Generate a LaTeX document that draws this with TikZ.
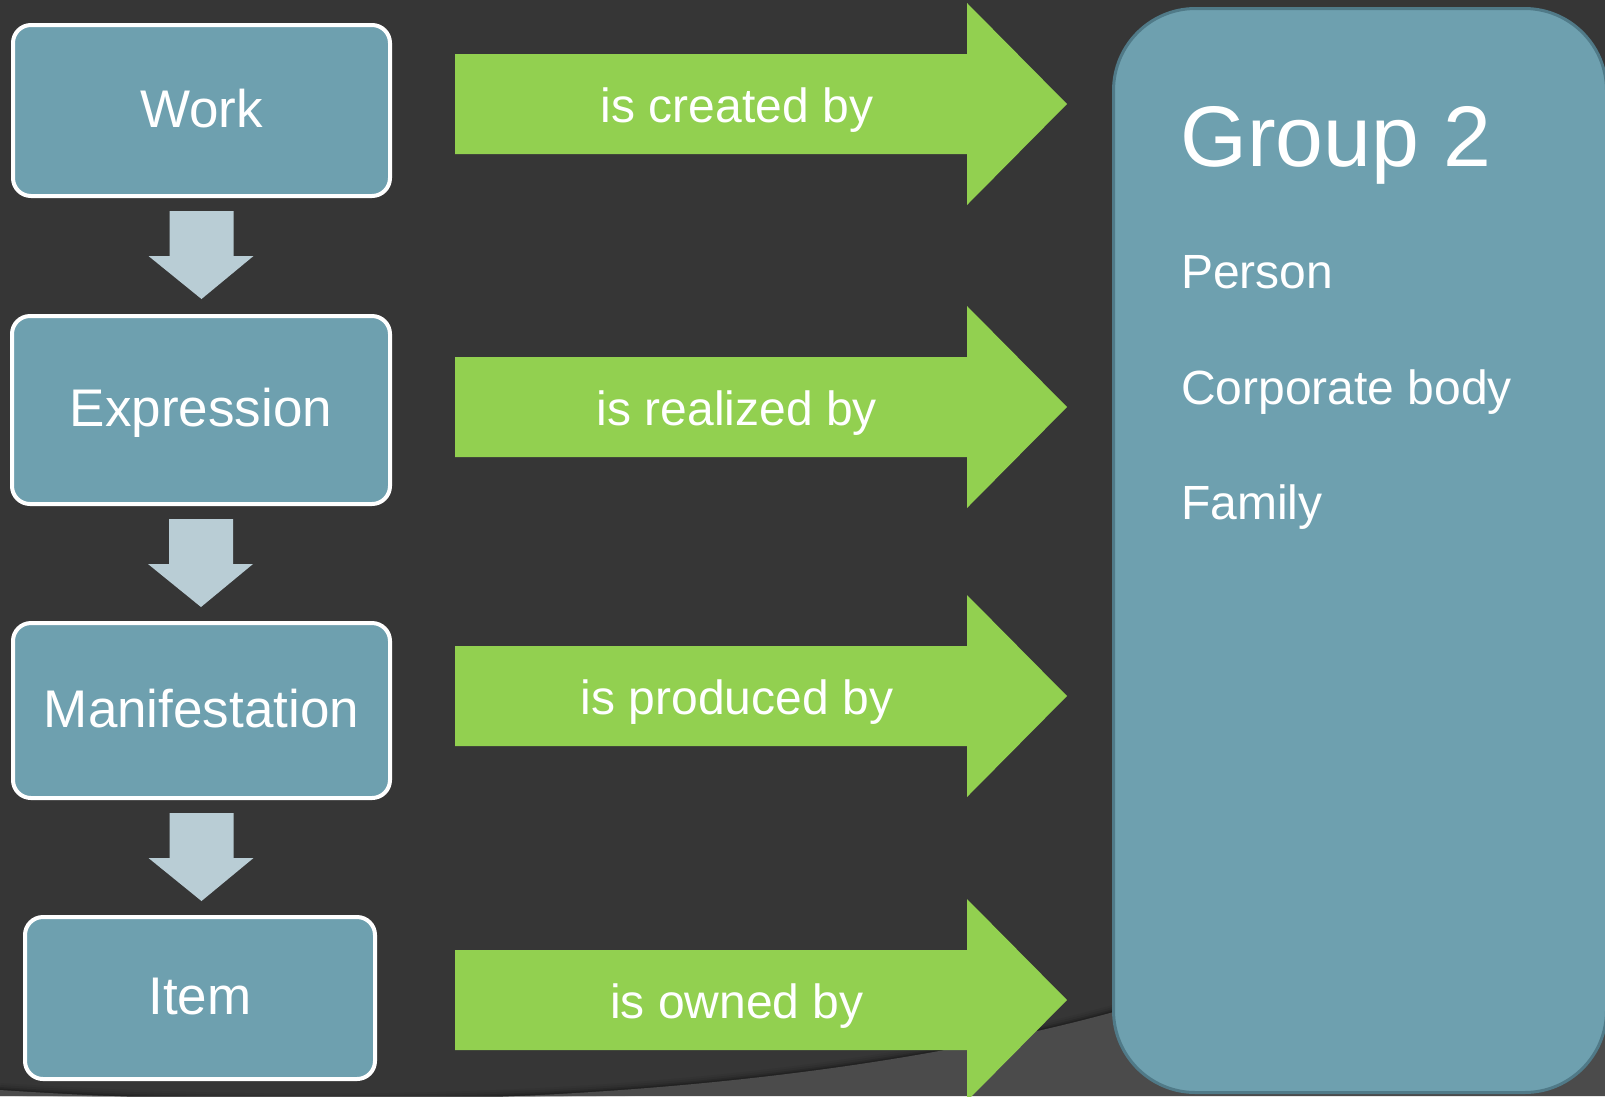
\documentclass[tikz,border=0pt]{standalone}
\usepackage{fontspec}
\setmainfont{Liberation Sans}
\definecolor{bgdark}{HTML}{363636}
\definecolor{bglight}{HTML}{4B4B4B}
\definecolor{boxfill}{HTML}{6EA0AF}
\definecolor{boxedge}{HTML}{507A88}
\definecolor{grn}{HTML}{92D050}
\definecolor{dnfill}{HTML}{B9CDD5}
\newcommand\grnarrow[1]{%
  \fill[grn] (455,#1-50) -- (967,#1-50) -- (967,#1-101) -- (1067,#1)
    -- (967,#1+101) -- (967,#1+50) -- (455,#1+50) -- cycle;}
\newcommand\dnarrow[1]{%
  \fill[dnfill, shift={(#1.south)}] (-32,13) -- (32,13) -- (32,58) -- (52,58)
    -- (0,101) -- (-53,58) -- (-32,58) -- cycle;}
\begin{document}
\begin{tikzpicture}[x=1pt,y=-1pt,
  entity/.style={draw=white, line width=4pt, fill=boxfill, rounded corners=18pt,
    text=white, font=\fontsize{53}{60}\selectfont, inner sep=0pt,
    text height=38pt, text depth=5pt},
  rel/.style={text=white, font=\fontsize{48}{55}\selectfont, inner sep=0pt, anchor=base},
  member/.style={text=white, font=\fontsize{48}{55}\selectfont, inner sep=0pt, anchor=base west}]
\fill[bgdark] (0,0) rectangle (1605,1096);
\useasboundingbox (0,0) rectangle (1605,1096);
% background swoosh with soft shadow
\foreach \o/\op in {14/0.05,10/0.08,6/0.12,3/0.16}{
  \draw[black, opacity=\op, line width=\o pt]
    (0,1090) .. controls (300,1110) and (750,1110) .. (1110,1013)
    .. controls (1300,962) and (1450,915) .. (1605,870);}
\fill[bglight] (0,1090) .. controls (300,1110) and (750,1110) .. (1110,1013)
    .. controls (1300,962) and (1450,915) .. (1605,870) -- (1605,1096) -- (0,1096) -- cycle;
% left entity boxes
\node[entity, minimum width=377pt, minimum height=171pt] (work) at (201.5,110.5) {Work};
\node[entity, minimum width=378pt, minimum height=188pt] (expr) at (201,410) {Expression};
\node[entity, minimum width=377pt, minimum height=175pt] (manif) at (201.5,710.5) {Manifestation};
\node[entity, minimum width=350pt, minimum height=162pt] (item) at (200,998) {Item};
% down arrows between boxes
\dnarrow{work}
\dnarrow{expr}
\dnarrow{manif}
% green relation arrows
\grnarrow{104}
\grnarrow{407}
\grnarrow{696}
\grnarrow{1000}
\node[rel] (r1) at (737,122) {is created by};
\node[rel] (r2) at (737,425) {is realized by};
\node[rel] (r3) at (737,714) {is produced by};
\node[rel] (r4) at (737,1018) {is owned by};
% group 2 box
\node[draw=boxedge, line width=3pt, fill=boxfill, rounded corners=82pt,
  minimum width=493pt, minimum height=1084pt, inner sep=0pt] (group) at (1360,550.5) {};
\node[text=white, font=\fontsize{86}{98}\selectfont, inner sep=0pt, anchor=base west]
  (gtitle) at (1180,166) {Group 2};
\node[member] (person) at (1181,288) {Person};
\node[member] (corp) at (1181,404) {Corporate body};
\node[member] (family) at (1181,519) {Family};
\end{tikzpicture}
\end{document}
